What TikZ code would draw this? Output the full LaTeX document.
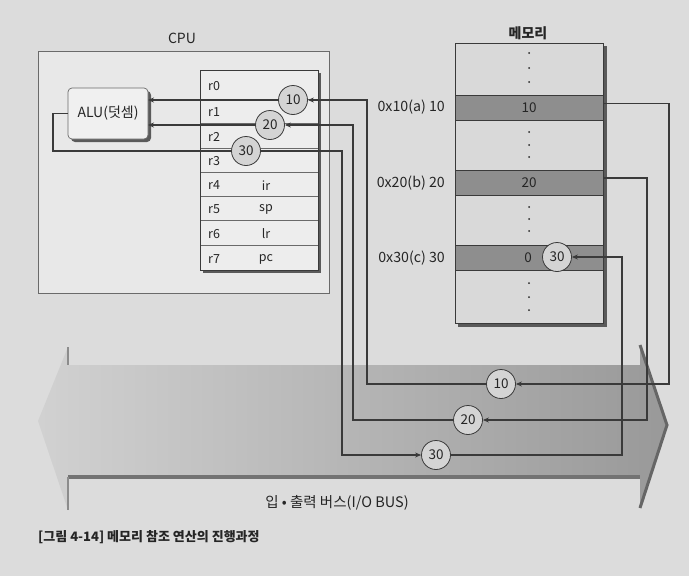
\documentclass[tikz,border=0pt]{standalone}
\usepackage{fontspec}
\setmainfont{Noto Sans CJK KR}
\usetikzlibrary{arrows.meta}
\definecolor{bg}{HTML}{DCDCDC}
\definecolor{lnc}{HTML}{3A3A3A}
\definecolor{txt}{HTML}{252525}
\definecolor{cellgray}{HTML}{8E8E8E}
\definecolor{circfill}{HTML}{D4D4D4}
\definecolor{boxfill}{HTML}{D9D9D9}
\definecolor{shadowc}{HTML}{5A5A5A}
\definecolor{thinln}{HTML}{6A6A6A}
\tikzset{
  ln/.style={draw=lnc, line width=1.2pt},
  arr/.style={ln, -{Stealth[length=6pt,width=5pt]}},
  circ/.style={circle, draw=lnc, fill=circfill, line width=0.8pt, minimum size=29pt, inner sep=0pt, text=txt, font=\fontsize{13.5}{13.5}\selectfont},
  regrow/.style={draw=thinln, line width=0.6pt, minimum width=118pt, inner sep=0pt, outer sep=0pt},
  regtxt/.style={text=txt, inner sep=0pt, font=\fontsize{12.5}{12.5}\selectfont},
  memcell/.style={draw=lnc, line width=0.6pt, fill=cellgray, minimum width=148pt, minimum height=25pt, inner sep=0pt, outer sep=0pt, text=txt, font=\fontsize{13.5}{13.5}\selectfont},
  memlbl/.style={anchor=east, text=txt, inner sep=0pt, font=\fontsize{14.2}{14.2}\selectfont},
  title/.style={text=txt, inner sep=0pt, font=\fontsize{14}{14}\selectfont},
  memdot/.style={fill=txt, circle, inner sep=0pt, minimum size=2pt},
}
\begin{document}
\begin{tikzpicture}[x=1pt,y=-1pt]
\useasboundingbox (0,0) rectangle (689,576);
\fill[bg] (0,0) rectangle (689,576);

% ---------- I/O bus ----------
\shade[left color=black!18, right color=black!40]
  (38,421) -- (68,347) -- (68,365) -- (640,365) -- (640,345) -- (667,425)
  -- (640,508) -- (640,477) -- (68,477) -- (68,510) -- cycle;
\draw[black!55, line width=4pt] (68,477) -- (640,477);
\draw[black!60, line width=3pt] (640,345) -- (667,425) -- (640,508);
\draw[black!45, line width=2pt] (68,347) -- (68,365) (68,477) -- (68,510);
\node[title, font=\fontsize{14.5}{14.5}\selectfont] (buslbl) at (337,503) {입 • 출력 버스(I/O BUS)};

% ---------- CPU ----------
\node[title] (cpulbl) at (182,38) {CPU};
\node[draw=thinln, fill=black!9, line width=0.7pt, minimum width=291pt, minimum height=242pt, inner sep=0pt, outer sep=0pt] (cpu) at (183.5,172) {};

% register table with shadow
\fill[shadowc] (203,73) rectangle (321,273);
\fill[black!7] (200,70) rectangle (318,270);
\foreach \rn/\ry/\rh/\rt in {0/84.5/29/{},1/111/24/{},2/135.5/25/{},3/160/24/{},4/184/24/ir,5/208/24/sp,6/232.5/25/lr,7/257.5/25/pc}{
  \node[regrow, minimum height=\rh pt] (r\rn) at (259,\ry) {};
  \node[regtxt, anchor=west] (rl\rn) at (208,\ry+1.5) {r\rn};
  \node[regtxt] (rt\rn) at (266,\ry+1.5) {\rt};
}
\draw[lnc, line width=0.8pt] (200,70) rectangle (318,270);

% ALU
\fill[shadowc, rounded corners=4pt] (71,91) rectangle (151,142);
\node[draw=thinln, fill=black!6, line width=0.7pt, rounded corners=4pt, minimum width=80pt, minimum height=51pt, inner sep=0pt, outer sep=0pt, text=txt, font=\fontsize{14}{14}\selectfont] (alu) at (108,113.5) {ALU(덧셈)};

% register circles
\node[circ] (c10) at (293,100) {10};
\node[circ] (c20) at (270,125) {20};
\node[circ] (c30) at (246,151) {30};

% ---------- Memory ----------
\node[title, font=\bfseries\fontsize{14}{14}\selectfont] (memlbl) at (528,33) {메모리};
\fill[shadowc] (458,46) rectangle (607,327);
\node[draw=lnc, fill=boxfill, line width=0.8pt, minimum width=148pt, minimum height=280pt, inner sep=0pt, outer sep=0pt] (mem) at (529,183) {};
\node[memcell] (cell10) at (529,107.5) {10};
\node[memcell] (cell20) at (529,182.5) {20};
\node[memcell] (cell30) at (529,257.5) {};
\node[regtxt, font=\fontsize{13.5}{13.5}\selectfont] (zero) at (528,257.5) {0};
\node[circ] (m30) at (557,257) {30};
\foreach \dy in {53,68,82,132,145,157,207,219,231,283,297,310}{
  \node[memdot] at (529,\dy) {};
}
\node[memlbl] (a10) at (445,107) {0x10(a) 10};
\node[memlbl] (a20) at (445,183) {0x20(b) 20};
\node[memlbl] (a30) at (445,258) {0x30(c) 30};

% ---------- bus circles ----------
\node[circ] (b10) at (501,384) {10};
\node[circ] (b20) at (468,420) {20};
\node[circ] (b30) at (436,455) {30};

% vertical line positions
\coordinate (x10) at (367,0);
\coordinate (x20) at (353,0);
\coordinate (x30) at (342,0);
\coordinate (xr10) at (669,0);
\coordinate (xr20) at (647,0);
\coordinate (xr30) at (622,0);
\coordinate (xa) at (53,0);

% ---------- connectors ----------
% 10
\draw[arr] ([yshift=4pt]cell10.east) -- ([yshift=4pt]cell10.east -| xr10) -- (xr10 |- b10.east) -- (b10.east);
\draw[arr] (b10.west) -- (b10.west -| x10) -- (x10 |- c10.east) -- (c10.east);
\draw[arr] (c10.west) -- (c10.west -| alu.east);
% 20
\draw[arr] ([yshift=4.5pt]cell20.east) -- ([yshift=4.5pt]cell20.east -| xr20) -- (xr20 |- b20.east) -- (b20.east);
\draw[arr] (b20.west) -- (b20.west -| x20) -- (x20 |- c20.east) -- (c20.east);
\draw[arr] (c20.west) -- (c20.west -| alu.east);
% 30
\draw[ln] (alu.west) -- (alu.west -| xa) -- (xa |- c30.west) -- (c30.west);
\draw[arr] (c30.east) -- (c30.east -| x30) -- (x30 |- b30.west) -- (b30.west);
\draw[arr] (b30.east) -- (b30.east -| xr30) -- (xr30 |- m30.east) -- (m30.east);

% caption
\node[anchor=west, text=txt, inner sep=0pt, font=\bfseries\fontsize{13}{13}\selectfont] (cap) at (38,537) {[그림 4-14] 메모리 참조 연산의 진행과정};
\end{tikzpicture}
\end{document}
